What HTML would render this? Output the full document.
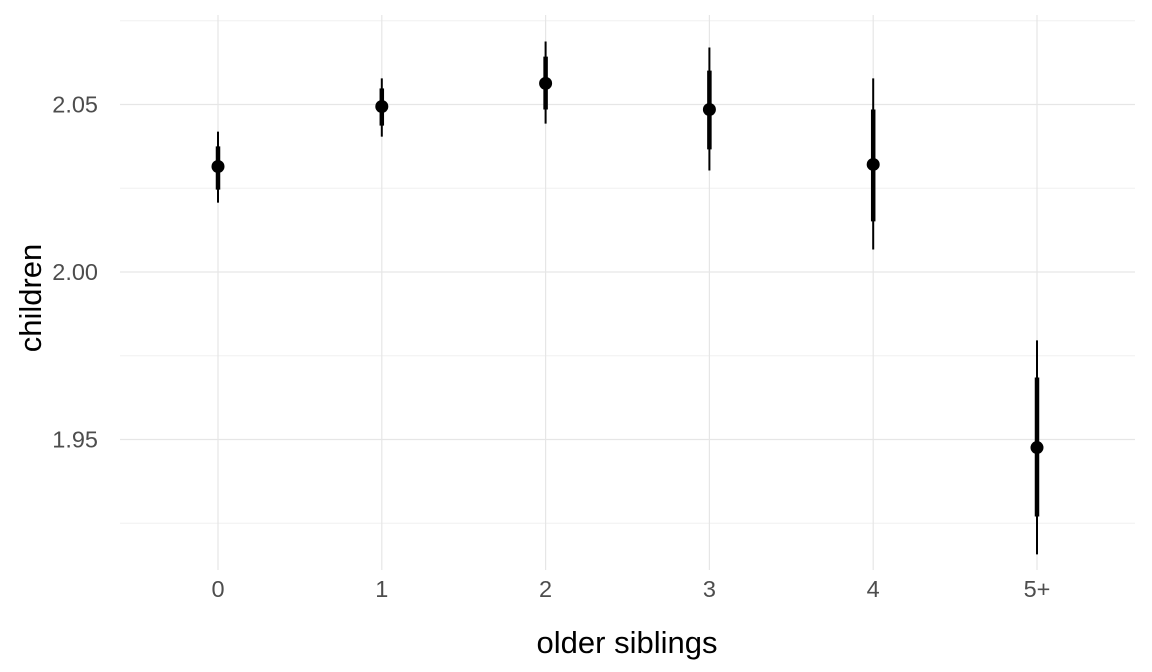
<!DOCTYPE html>
<html><head><meta charset="utf-8"><style>
html,body{margin:0;padding:0;background:#fff;}
svg{display:block;font-family:"Liberation Sans",sans-serif;}
</style></head><body>
<svg width="1152" height="672" id="chart">
<g id="grid"></g>
<g id="marks"></g>
<g id="axes"></g>
<text x="627" y="653" text-anchor="middle" font-size="31" fill="#000">older siblings</text>
<text transform="translate(41,298) rotate(-90)" text-anchor="middle" font-size="31" fill="#000">children</text>
</svg>
<script>
const categories = ["0","1","2","3","4","5+"];
const estimates = [2.0315, 2.0494, 2.0563, 2.0485, 2.0321, 1.9476];
const outerLow = [2.0207, 2.0404, 2.0443, 2.0303, 2.0067, 1.9157];
const outerHigh = [2.0419, 2.0578, 2.0688, 2.0670, 2.0578, 1.9796];
const innerLow = [2.0246, 2.0437, 2.0485, 2.0366, 2.0151, 1.9270];
const innerHigh = [2.0375, 2.0548, 2.0643, 2.0601, 2.0485, 1.9685];
const majorTicks = [1.95, 2.00, 2.05];
const majorLabels = ["1.95","2.00","2.05"];
const minorTicks = [1.925, 1.975, 2.025, 2.075];

const NS="http://www.w3.org/2000/svg";
const panelLeft=120,panelRight=1135,panelTop=15,panelBottom=570;
const xs=i=>218+i*((1037-218)/5);
const ys=v=>272-(v-2.0)*3350;
function mk(tag,attrs,parent){const e=document.createElementNS(NS,tag);for(const k in attrs)e.setAttribute(k,attrs[k]);parent.appendChild(e);return e;}
const grid=document.getElementById('grid'),marks=document.getElementById('marks'),axes=document.getElementById('axes');
minorTicks.forEach(v=>{const l=mk('line',{x1:panelLeft,x2:panelRight,y1:ys(v),y2:ys(v),stroke:'#f0f0f0','stroke-width':1},grid);

});
majorTicks.forEach((v,i)=>{const l=mk('line',{x1:panelLeft,x2:panelRight,y1:ys(v),y2:ys(v),stroke:'#e6e6e6','stroke-width':1.2},grid);


const t=mk('text',{x:98,y:ys(v)+8,'text-anchor':'end','font-size':23.5,fill:'#4d4d4d'},axes);t.textContent=majorLabels[i];

});
categories.forEach((c,i)=>{const x=xs(i);
const g=mk('line',{x1:x,x2:x,y1:panelTop,y2:panelBottom,stroke:'#e6e6e6','stroke-width':1.2},grid);


const t=mk('text',{x:x,y:597,'text-anchor':'middle','font-size':23.5,fill:'#4d4d4d'},axes);t.textContent=c;


const o=mk('line',{x1:x,x2:x,y1:ys(outerHigh[i]),y2:ys(outerLow[i]),stroke:'#000','stroke-width':2},marks);


const n=mk('line',{x1:x,x2:x,y1:ys(innerHigh[i]),y2:ys(innerLow[i]),stroke:'#000','stroke-width':4.5},marks);


const p=mk('circle',{cx:x,cy:ys(estimates[i]),r:6.5,fill:'#000'},marks);

});
</script>
</body></html>
